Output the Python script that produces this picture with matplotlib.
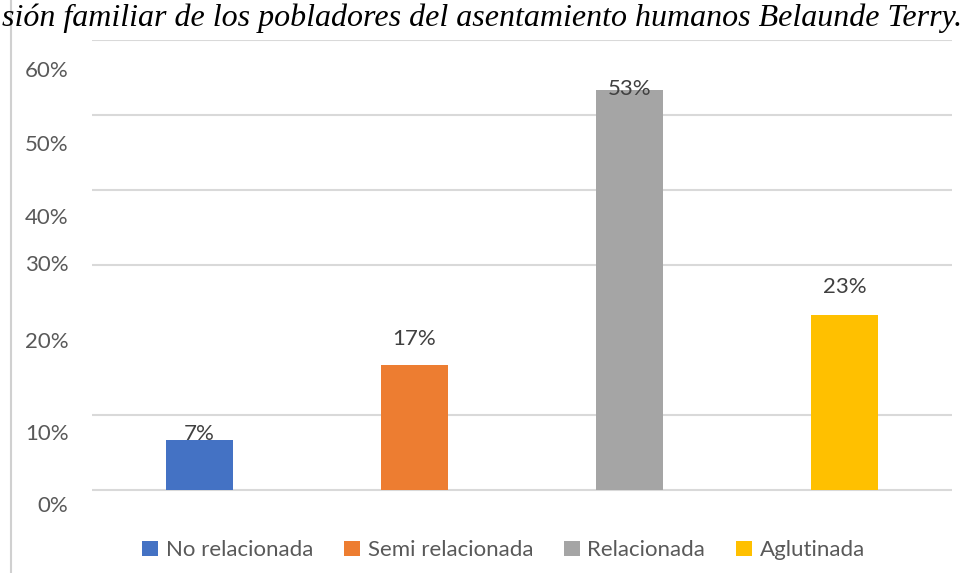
import numpy as np
import matplotlib.pyplot as plt
from matplotlib.patches import Patch
from matplotlib.lines import Line2D

# datos
categorias = ['No relacionada', 'Semi relacionada', 'Relacionada', 'Aglutinada']
valores = [2 / 30, 5 / 30, 16 / 30, 7 / 30]
etiquetas = ['7%', '17%', '53%', '23%']
colores = ['#4472C4', '#ED7D31', '#A5A5A5', '#FFC000']

# eje y: lineas de cuadricula y etiquetas (desplazadas como en el original)
grid_vals = [0, 0.1, 0.2, 0.3, 0.4, 0.5, 0.6]
tick_labels = ['0%', '10%', '20%', '30%', '40%', '50%', '60%']
tick_pos = [-0.019, 0.077, 0.2, 0.303, 0.365, 0.462, 0.561]

# desplazamiento vertical de las etiquetas de datos (puntos)
label_off = [4, 19, 1, 20]

plt.rcParams['font.family'] = ['Lato', 'DejaVu Sans']

fig = plt.figure(figsize=(9.65, 5.73), dpi=100)
ax = fig.add_axes([0.0953, 0.1056, 0.8912, 0.8246])

x = np.arange(len(categorias))
bars = ax.bar(x, valores, width=0.31, color=colores, zorder=3)

for b, lab, off in zip(bars, etiquetas, label_off):
    ax.annotate(lab, (b.get_x() + b.get_width() / 2, b.get_height()),
                xytext=(0, off), textcoords='offset points',
                ha='center', va='center', fontsize=16, color='#404040', zorder=4)

ax.set_xlim(-0.5, 3.5)
ax.set_ylim(-0.03, 0.6)
ax.set_xticks([])
ax.set_yticks(tick_pos, tick_labels)
ax.tick_params(axis='y', length=0, pad=17, labelsize=16, labelcolor='#595959')
ax.set_yticks(grid_vals, minor=True)
ax.tick_params(axis='y', which='minor', length=0)
ax.grid(axis='y', which='minor', color='#D9D9D9', lw=1.5, zorder=0)
for s in ax.spines.values():
    s.set_visible(False)

# linea vertical del borde de pagina
fig.add_artist(Line2D([11 / 965, 11 / 965], [0, 1], color='#D0D0D0', lw=1.5))

fig.text(0.002, 0.968, 'sión familiar de los pobladores del asentamiento humanos Belaunde Terry.',
         ha='left', va='center', fontsize=23, style='italic',
         family=['Liberation Serif', 'DejaVu Serif'])

handles = [Patch(facecolor=c) for c in colores]
fig.legend(handles, categorias, loc='center', bbox_to_anchor=(0.522, 0.04), ncol=4,
           frameon=False, fontsize=16, labelcolor='#595959',
           handlelength=0.7, handleheight=0.7, handletextpad=0.35, columnspacing=1.4)

fig.savefig('out.png', dpi=100)
